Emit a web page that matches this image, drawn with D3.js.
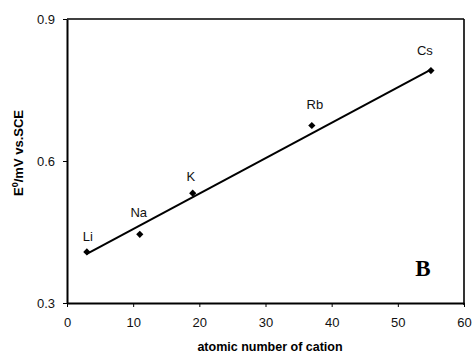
<!DOCTYPE html>
<html>
<head>
<meta charset="utf-8">
<script src="https://cdn.jsdelivr.net/npm/d3@7"></script>
<style>
  body { margin: 0; background: #fff; }
  svg { display: block; }
</style>
</head>
<body>
<div id="chart"></div>
<script>
// data
const cations = ['Li', 'Na', 'K', 'Rb', 'Cs'];
const atomicNumber = [3, 11, 19, 37, 55];
const e0 = [0.408, 0.445, 0.532, 0.675, 0.791];
// straight fit line, its two ends
const fitX = [3, 55];
const fitY = [0.404, 0.793];
const xTicks = [0, 10, 20, 30, 40, 50, 60];
const yTicks = [0.3, 0.6, 0.9];

// label nudges (pixels) for each point label
const labelDx = [1, -1, -2, 3, -6];
const labelDy = [-11, -17, -12, -17, -16];

const W = 472, H = 355;
const margin = {left: 67, top: 19, right: 8, bottom: 52};

const svg = d3.select('#chart')
  .append('svg')
  .attr('width', W)
  .attr('height', H);

const x = d3.scaleLinear().domain([0, 60]).range([margin.left, W - margin.right]);
const y = d3.scaleLinear().domain([0.3, 0.9]).range([H - margin.bottom, margin.top]);

// frame top + right
svg.append('line')
  .attr('x1', x(0)).attr('x2', x(60))
  .attr('y1', y(0.9)).attr('y2', y(0.9))
  .style('stroke', '#000').style('stroke-width', 1.6);
svg.append('line')
  .attr('x1', x(60)).attr('x2', x(60))
  .attr('y1', y(0.9)).attr('y2', y(0.3) + 2)
  .style('stroke', '#000').style('stroke-width', 1.6);

// x axis
const xAxis = svg.append('g')
  .attr('transform', 'translate(0,' + y(0.3) + ')')
  .call(d3.axisBottom(x).tickValues(xTicks).tickSize(4).tickSizeOuter(0).tickPadding(11));
xAxis.select('.domain').style('stroke-width', 2);
xAxis.selectAll('.tick line').style('stroke-width', 1);
xAxis.selectAll('text')
  .style('font-family', 'Arial, "Liberation Sans", sans-serif')
  .style('font-size', '13px')
  .style('fill', '#111');

// y axis
const yAxis = svg.append('g')
  .attr('transform', 'translate(' + x(0) + ',0)')
  .call(d3.axisLeft(y).tickValues(yTicks).tickFormat(d3.format('.1f')).tickSize(4).tickSizeOuter(0).tickPadding(8));
yAxis.select('.domain').style('stroke-width', 2);
yAxis.selectAll('.tick line').style('stroke-width', 1);
yAxis.selectAll('text')
  .style('font-family', 'Arial, "Liberation Sans", sans-serif')
  .style('font-size', '13px')
  .style('fill', '#111');

// axis titles
svg.append('text')
  .attr('x', 270)
  .attr('y', 351)
  .attr('text-anchor', 'middle')
  .style('font-family', 'Arial, "Liberation Sans", sans-serif')
  .style('font-weight', 'bold')
  .style('font-size', '12.5px')
  .text('atomic number of cation');

const yTitle = svg.append('text')
  .attr('transform', 'translate(23,153)rotate(-90)')
  .attr('text-anchor', 'middle')
  .style('font-family', 'Arial, "Liberation Sans", sans-serif')
  .style('font-weight', 'bold')
  .style('font-size', '13px');
yTitle.append('tspan').text('E');
yTitle.append('tspan').attr('dy', -5).style('font-size', '9px').text('0');
yTitle.append('tspan').attr('dy', 5).text('/mV vs.SCE');

// fit line
const line = d3.line()
  .x((d, i) => x(fitX[i]))
  .y((d, i) => y(fitY[i]));
svg.append('path')
  .datum(fitX)
  .attr('d', line)
  .style('fill', 'none')
  .style('stroke', '#000')
  .style('stroke-width', 2);

// points (square turned 45deg = even diamond)
const diamond = d3.symbol().type(d3.symbolSquare).size(26);
svg.selectAll('.pt')
  .data(atomicNumber)
  .enter()
  .append('path')
  .attr('class', 'pt')
  .attr('d', diamond)
  .attr('transform', (d, i) => 'translate(' + x(d) + ',' + y(e0[i]) + ')rotate(45)')
  .style('fill', '#000');

// point labels
svg.selectAll('.lab')
  .data(cations)
  .enter()
  .append('text')
  .attr('class', 'lab')
  .attr('x', (d, i) => x(atomicNumber[i]) + labelDx[i])
  .attr('y', (d, i) => y(e0[i]) + labelDy[i])
  .attr('text-anchor', 'middle')
  .style('font-family', 'Arial, "Liberation Sans", sans-serif')
  .style('font-size', '13px')
  .style('fill', '#111')
  .text(d => d);

// panel letter
svg.append('text')
  .attr('x', 423)
  .attr('y', 276)
  .attr('text-anchor', 'middle')
  .style('font-family', '"Times New Roman", "Liberation Serif", serif')
  .style('font-weight', 'bold')
  .style('font-size', '23px')
  .text('B');
</script>
</body>
</html>
